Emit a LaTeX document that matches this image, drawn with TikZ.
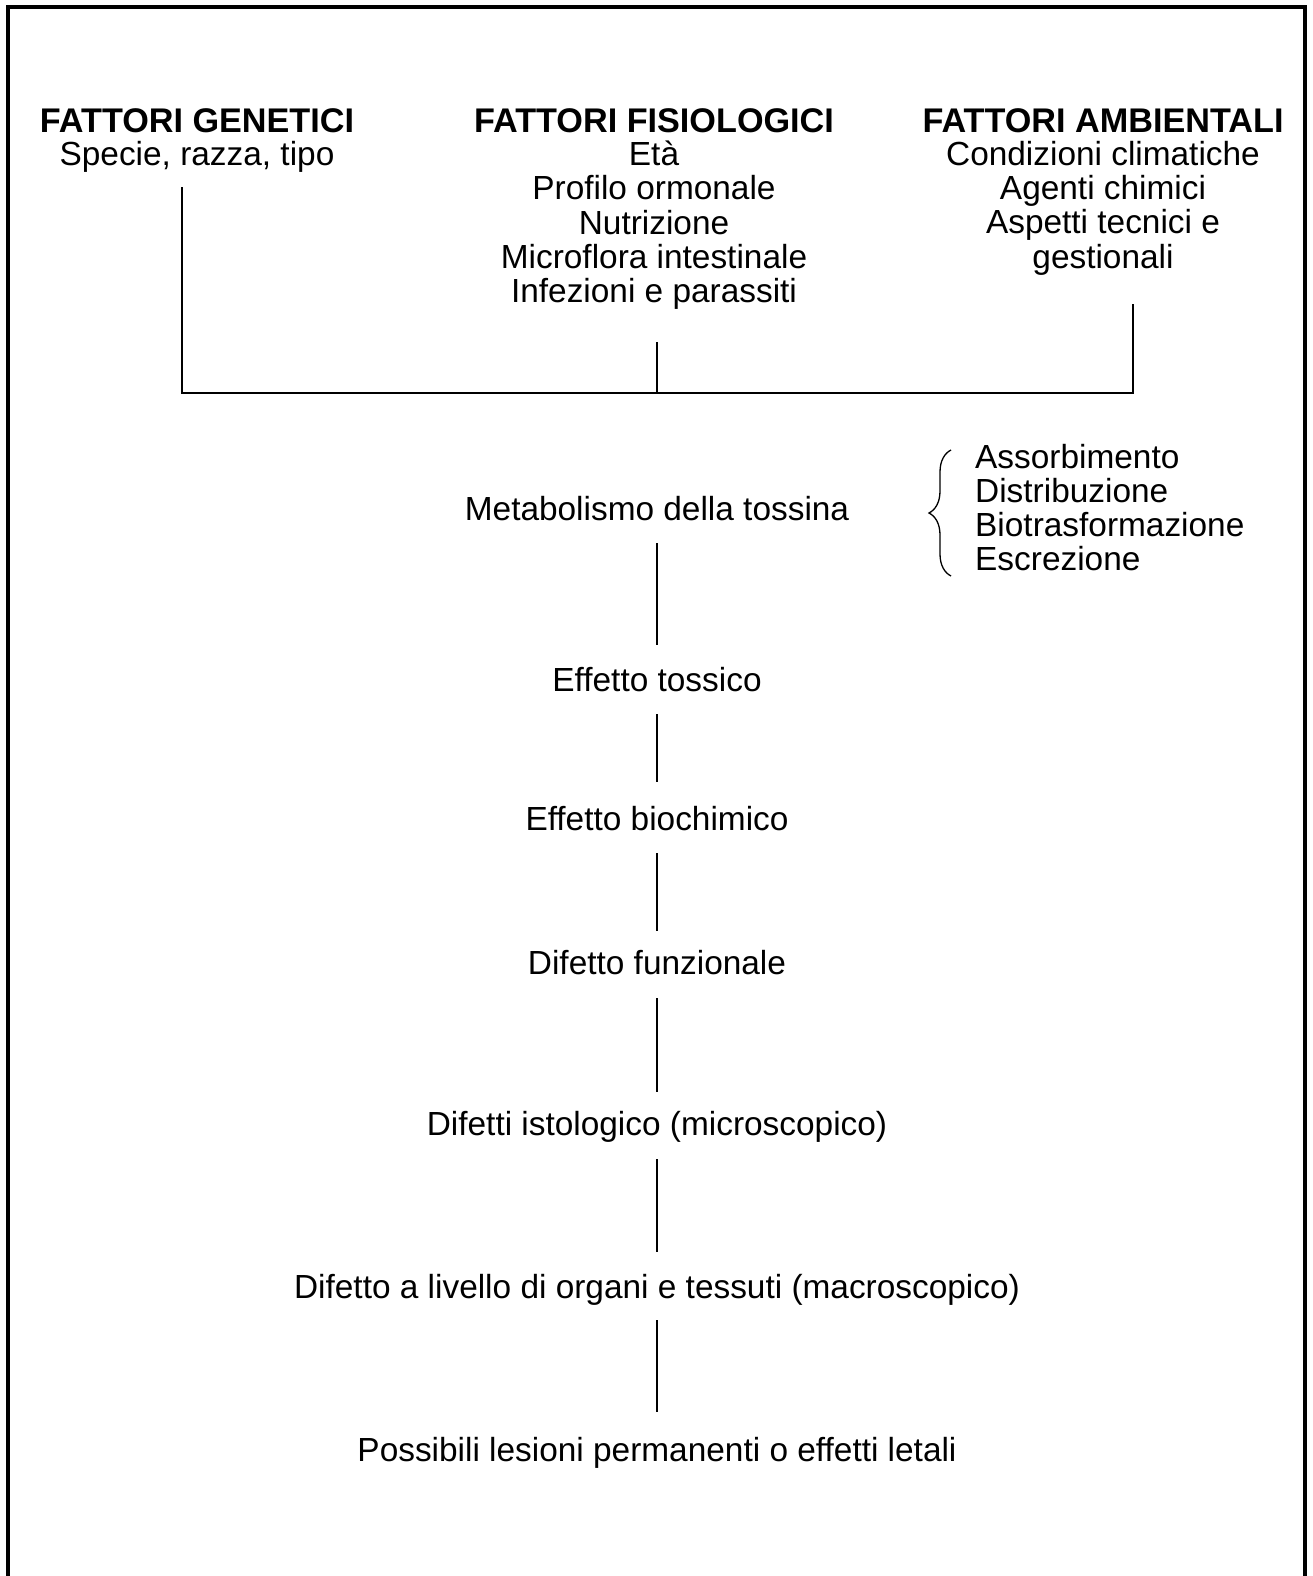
\documentclass[tikz,border=0pt]{standalone}
\usepackage{fontspec}
\setmainfont{Liberation Sans}
\usetikzlibrary{decorations.pathreplacing}
\begin{document}
\begin{tikzpicture}[x=1pt,y=-1pt,
  lbl/.style={inner sep=0pt,anchor=base,font=\fontsize{33.4}{34.2}\selectfont,align=center},
  head/.style={lbl,font=\fontsize{34.2}{34.2}\selectfont\bfseries},
  item/.style={lbl,anchor=base west,align=left},
  conn/.style={line width=1.4pt},
  frame/.style={line width=4.5pt}]
\useasboundingbox (0,0) rectangle (1312,1576);
% open frame
\draw[frame] (8,1580) -- (8,7) -- (1305,7) -- (1305,1580);

% three groups of factors
\node[head] (hg) at (197,132) {FATTORI GENETICI};
\node[lbl]  (tg) at (197,165) {Specie, razza, tipo};
\node[head] (hf) at (654,132) {FATTORI FISIOLOGICI};
\node[lbl,anchor=north] (tf) at (654,141) {Età\\Profilo ormonale\\Nutrizione\\Microflora intestinale\\Infezioni e parassiti};
\node[head] (ha) at (1103,132) {FATTORI AMBIENTALI};
\node[lbl,anchor=north] (ta) at (1103,141) {Condizioni climatiche\\Agenti chimici\\Aspetti tecnici e\\gestionali};

% joining bracket
\coordinate (g1) at (182,187);
\coordinate (f1) at (657,342);
\coordinate (a1) at (1133,304);
\coordinate (g2) at (182,393);
\coordinate (f2) at (657,393);
\coordinate (a2) at (1133,393);
\draw[conn] (g1) -- (g2) -- (a2) -- (a1);
\draw[conn] (f1) -- (f2);

% chain of effects
\node[lbl] (m) at (657,520) {Metabolismo della tossina};
\node[item] (i1) at (975,468) {Assorbimento};
\node[item] (i2) at (975,502) {Distribuzione};
\node[item] (i3) at (975,536) {Biotrasformazione};
\node[item] (i4) at (975,570) {Escrezione};
\coordinate (bt) at (951,450);
\coordinate (bb) at (951,576);
\draw[line width=1.3pt,decoration={brace,amplitude=22pt,aspect=0.5},decorate] (bb) -- (bt);

\node[lbl] (e1) at (657,691) {Effetto tossico};
\node[lbl] (e2) at (657,830) {Effetto biochimico};
\node[lbl] (e3) at (657,974) {Difetto funzionale};
\node[lbl] (e4) at (657,1135) {Difetti istologico (microscopico)};
\node[lbl] (e5) at (657,1298) {Difetto a livello di organi e tessuti (macroscopico)};
\node[lbl] (e6) at (657,1461) {Possibili lesioni permanenti o effetti letali};

\coordinate (c1a) at (657,543);  \coordinate (c1b) at (657,645);
\coordinate (c2a) at (657,714);  \coordinate (c2b) at (657,782);
\coordinate (c3a) at (657,853);  \coordinate (c3b) at (657,931);
\coordinate (c4a) at (657,998);  \coordinate (c4b) at (657,1092);
\coordinate (c5a) at (657,1159); \coordinate (c5b) at (657,1252);
\coordinate (c6a) at (657,1320); \coordinate (c6b) at (657,1412);
\foreach \k in {1,...,6} \draw[conn] (c\k a) -- (c\k b);
\end{tikzpicture}
\end{document}
